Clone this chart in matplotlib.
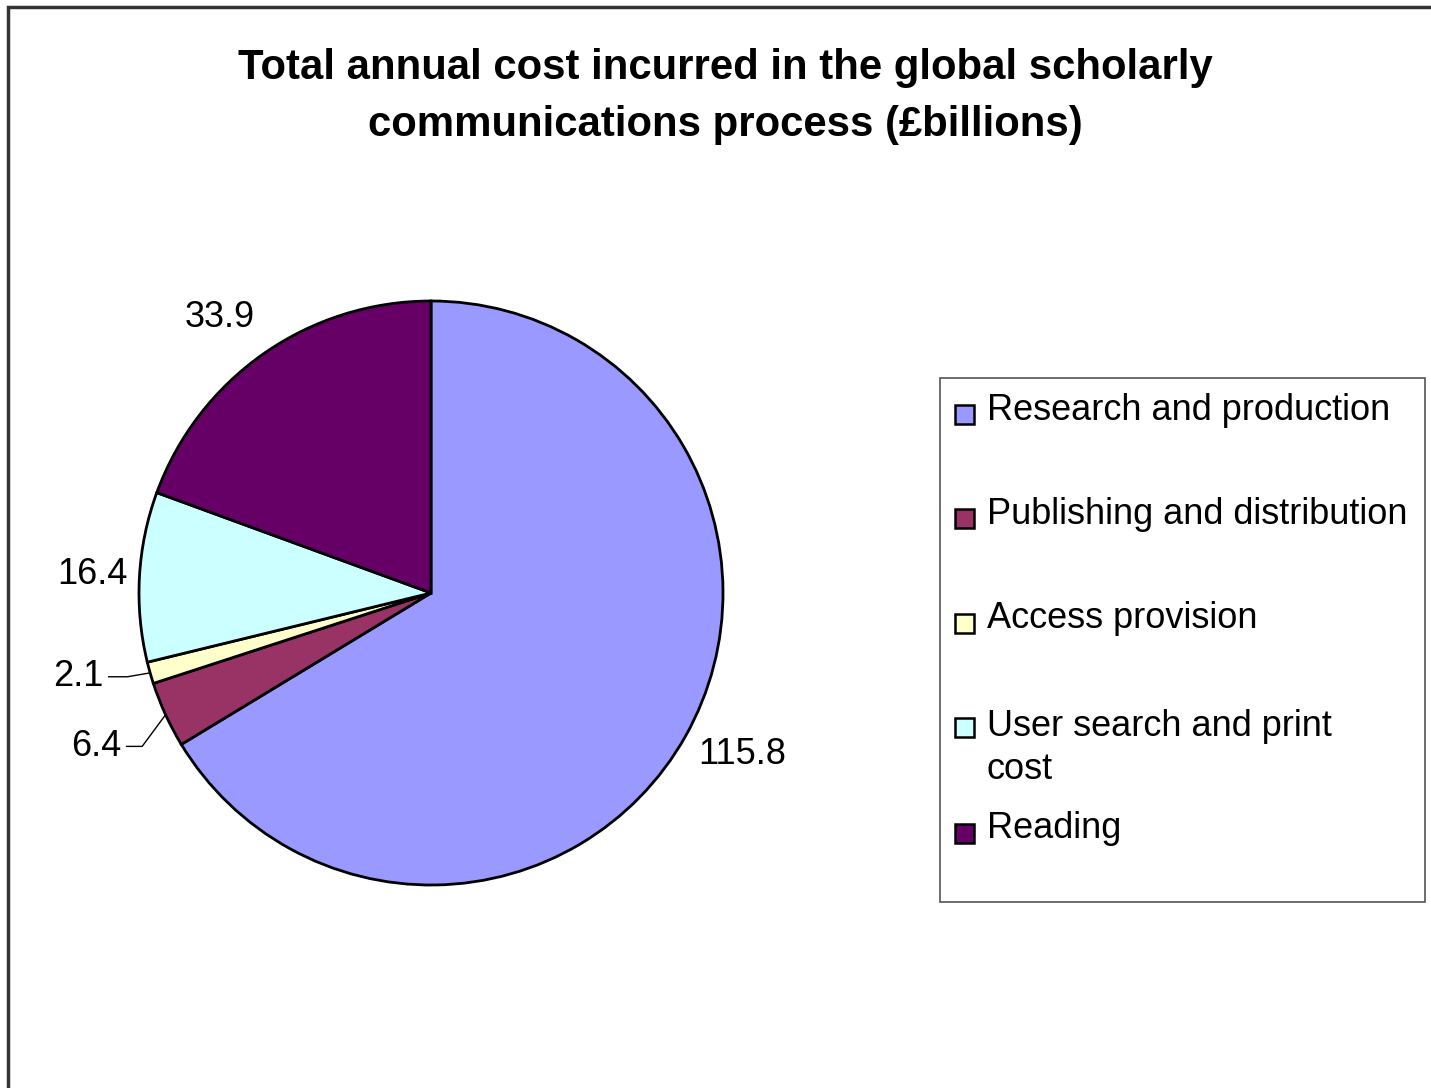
import numpy as np
import matplotlib
matplotlib.use('Agg')
import matplotlib.pyplot as plt
from matplotlib.patches import Rectangle

plt.rcParams['font.family'] = ['Liberation Sans', 'DejaVu Sans']

# data
categories = ['Research and production', 'Publishing and distribution',
              'Access provision', 'User search and print\ncost', 'Reading']
values = [115.8, 6.4, 2.1, 16.4, 33.9]
colors = ['#9999FF', '#993366', '#FFFFCC', '#CCFFFF', '#660066']
title_lines = ['Total annual cost incurred in the global scholarly',
               'communications process (£billions)']

W, H = 1431, 1088
fig = plt.figure(figsize=(W / 100, H / 100), dpi=100)
ax = fig.add_axes([0, 0, 1, 1])

# outer chart frame (only left and top show in the picture)
ax.plot([8, 8, W + 5], [-5, H - 7, H - 7], color='#333333', lw=2.5,
        solid_joinstyle='miter')

cx, cy, r = 431, H - 593, 292
wedges, _ = ax.pie(values, colors=colors, startangle=90, counterclock=False,
                   center=(cx, cy), radius=r, frame=True,
                   wedgeprops={'edgecolor': 'black', 'linewidth': 2})
ax.set_xlim(0, W)
ax.set_ylim(0, H)
ax.set_aspect('equal')
ax.axis('off')

# data labels
dist = {0: 1.2, 1: 1.26, 2: 1.24, 3: 1.16, 4: 1.19}
shift = {0: 2.0, 2: -2.5, 4: 2.5}
leader = {1, 2}
for i, w in enumerate(wedges):
    ang = np.deg2rad((w.theta1 + w.theta2) / 2 + shift.get(i, 0))
    tx = cx + dist[i] * r * np.cos(ang)
    ty = cy + dist[i] * r * np.sin(ang)
    ax.text(tx, ty, f'{values[i]:.1f}', fontsize=26, ha='center',
            va='center')
    if i in leader:
        mid = np.deg2rad((w.theta1 + w.theta2) / 2)
        ex, ey = cx + r * np.cos(mid), cy + r * np.sin(mid)
        x0 = tx + 30
        kx = x0 + 0.45 * (ex - x0) if i == 2 else x0 + 0.4 * (ex - x0)
        ax.plot([x0, kx, ex], [ty, ty, ey], color='black', lw=1)

# title
for line, y in zip(title_lines, [68, 125]):
    ax.text(W / 2 + 10, H - y, line, fontsize=30.2, fontweight='bold',
            ha='center', va='center')

# legend box
lx0, ly0, lx1, ly1 = 940, H - 902, 1425, H - 378
ax.add_patch(Rectangle((lx0, ly0), lx1 - lx0, ly1 - ly0, fill=False,
                       edgecolor='#555555', lw=1.2))
ys = [410, 514, 619, 723, 829]
for name, col, y in zip(categories, colors, ys):
    yy = H - y
    ax.add_patch(Rectangle((955, yy - 14), 19, 19, facecolor=col,
                           edgecolor='black', lw=1.8))
    if '\n' in name:
        ax.text(987, yy + 14, name, fontsize=26, ha='left', va='top',
                linespacing=1.3)
    else:
        ax.text(987, yy, name, fontsize=26, ha='left', va='center')

fig.savefig('out.png', dpi=100)
